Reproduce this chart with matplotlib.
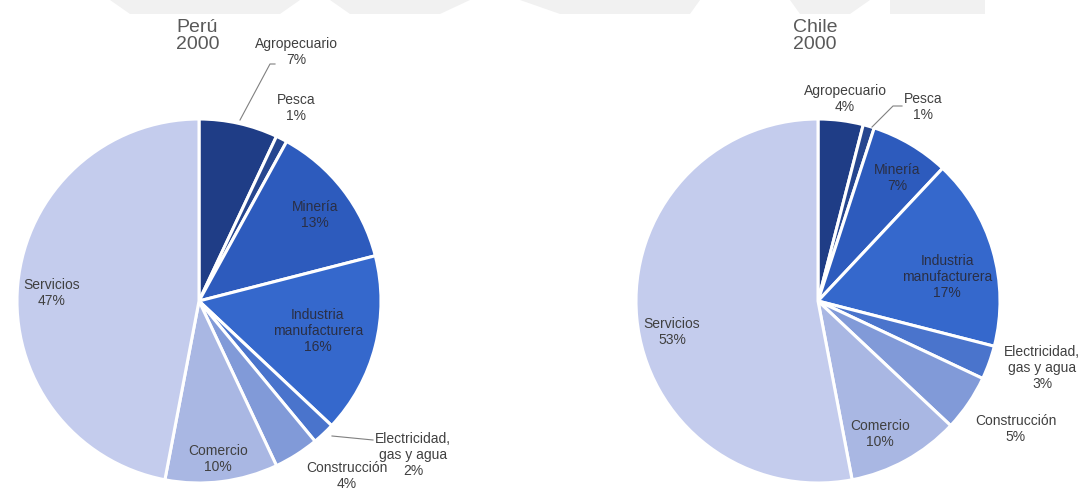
import matplotlib
matplotlib.use("Agg")
import matplotlib.pyplot as plt
from matplotlib.patches import Polygon

categories = ["Agropecuario", "Pesca", "Minería", "Industria\nmanufacturera",
              "Electricidad,\ngas y agua", "Construcción", "Comercio", "Servicios"]
peru_values = [7, 1, 13, 16, 2, 4, 10, 47]
chile_values = [4, 1, 7, 17, 3, 5, 10, 53]
peru_title = "Perú\n2000"
chile_title = "Chile\n2000"

colors = ["#1f3d86", "#26468f", "#2d5bbd", "#3568cc", "#4a74cc",
          "#819ad8", "#a9b7e3", "#c4cced"]

W, H = 1082, 491
fig = plt.figure(figsize=(W / 100, H / 100), dpi=100)
ax = fig.add_axes([0, 0, 1, 1])
ax.set_xlim(0, W)
ax.set_ylim(0, H)
ax.set_aspect("equal")
ax.axis("off")

plt.rcParams["font.family"] = ["Liberation Sans", "DejaVu Sans"]
txt = "#404040"
inner = "#2a2f45"


def Y(y):
    return H - y


# faint watermark band at the top
for pts in ([(110, 0), (300, 0), (280, 14), (130, 14)],
            [(330, 0), (470, 0), (440, 14), (350, 14)],
            [(520, 0), (700, 0), (690, 14), (560, 14)],
            [(790, 0), (870, 0), (850, 14), (800, 14)],
            [(890, 0), (985, 0), (985, 14), (890, 14)]):
    ax.add_patch(Polygon([(x, Y(y)) for x, y in pts], closed=True,
                         facecolor="#f1f1f1", edgecolor="none", zorder=0))


def draw(values, cx, cy, r, title, tpos, labels):
    ax.pie(values, colors=colors, startangle=90, counterclock=False,
           center=(cx, Y(cy)), radius=r, frame=True,
           wedgeprops=dict(edgecolor="white", linewidth=2.2))
    ax.text(tpos[0], Y(tpos[1]), title, fontsize=14, color="#595959",
            ha="left", va="top", linespacing=1.0)
    for i, (x, y, col) in labels.items():
        name = categories[i]
        ax.text(x, Y(y), f"{name}\n{values[i]}%", fontsize=10, color=col,
                ha="center", va="center", linespacing=1.2)


draw(peru_values, 199, 301, 182, peru_title, (176, 19), {
    0: (296, 52, txt),
    1: (296, 108, txt),
    2: (315, 215, inner),
    3: (318, 331, inner),
    4: (413, 455, txt),
    5: (347, 476, txt),
    6: (218, 459, txt),
    7: (52, 293, txt),
})
draw(chile_values, 818, 301, 182, chile_title, (793, 19), {
    0: (845, 99, txt),
    1: (923, 107, txt),
    2: (897, 178, inner),
    3: (947, 277, inner),
    4: (1042, 368, txt),
    5: (1016, 429, txt),
    6: (880, 434, txt),
    7: (672, 332, txt),
})

# leader lines
lc = "#808080"
ax.plot([275, 270, 240], [Y(64), Y(64), Y(120)], color=lc, lw=0.8)
ax.plot([373, 332], [Y(440), Y(436)], color=lc, lw=0.8)
ax.plot([902, 893, 872], [Y(106), Y(106), Y(127)], color=lc, lw=0.8)

ax.set_xlim(0, W)
ax.set_ylim(0, H)
fig.savefig("out.png", dpi=100)
